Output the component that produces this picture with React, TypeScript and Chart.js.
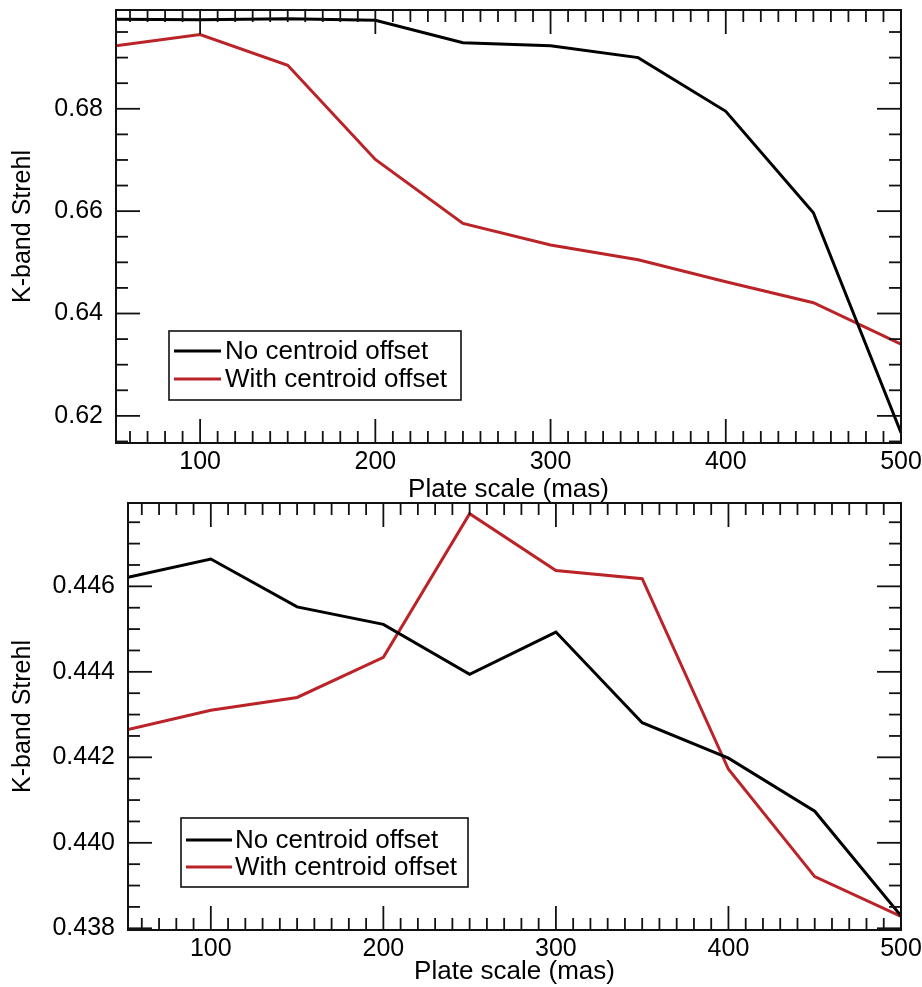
import React, { useEffect, useRef } from 'react';
import { Chart, registerables } from 'chart.js';

Chart.register(...registerables);

// ---------- data ----------
const plateScale = [52, 100, 150, 200, 250, 300, 350, 400, 450, 500];
const seriesLabels = ['No centroid offset', 'With centroid offset'];

const topNoOffset = [0.6975, 0.6974, 0.6976, 0.6973, 0.6929, 0.6923, 0.6900, 0.6795, 0.6597, 0.6167];
const topWithOffset = [0.6923, 0.6945, 0.6885, 0.6701, 0.6576, 0.6534, 0.6505, 0.6462, 0.6421, 0.6340];

const bottomNoOffset = [0.44621, 0.44664, 0.44552, 0.44511, 0.44394, 0.44493, 0.44281, 0.44198, 0.44074, 0.43829];
const bottomWithOffset = [0.44265, 0.44310, 0.44340, 0.44434, 0.44770, 0.44637, 0.44618, 0.44172, 0.43921, 0.43828];

const xTickLabels = [100, 200, 300, 400, 500];
const topYTicks = [0.62, 0.64, 0.66, 0.68];
const bottomYTicks = [0.438, 0.440, 0.442, 0.444, 0.446];

const xTitle = 'Plate scale (mas)';
const yTitle = 'K-band Strehl';

const FONT = '"Liberation Sans", Arial, Helvetica, sans-serif';
const BLACK = '#000000';
const RED = '#BA2328';

// ---------- plugin: IDL-style box, inward ticks, legend ----------
const idlAxes = {
  id: 'idlAxes',
  afterDatasetsDraw(chart: any, _args: any, opts: any) {
    const { ctx, chartArea: a } = chart;
    const x = chart.scales.x;
    const y = chart.scales.y;
    ctx.save();
    ctx.strokeStyle = '#111';
    ctx.lineWidth = 1.8;
    ctx.lineCap = 'butt';
    const seg = (x1: number, y1: number, x2: number, y2: number) => {
      ctx.beginPath();
      ctx.moveTo(x1, y1);
      ctx.lineTo(x2, y2);
      ctx.stroke();
    };
    const MAJ = 24;
    const MIN = 12;
    // x ticks
    {
      const step = opts.xMinor;
      const ratio = Math.round(opts.xMajor / opts.xMinor);
      const i0 = Math.ceil(x.min / step - 1e-9);
      const i1 = Math.floor(x.max / step + 1e-9);
      for (let i = i0; i <= i1; i++) {
        const px = x.getPixelForValue(i * step);
        const len = i % ratio === 0 ? MAJ : MIN;
        seg(px, a.bottom, px, a.bottom - len);
        seg(px, a.top, px, a.top + len);
      }
    }
    // y ticks
    {
      const step = opts.yMinor;
      const ratio = Math.round(opts.yMajor / opts.yMinor);
      const i0 = Math.ceil(y.min / step - 1e-9);
      const i1 = Math.floor(y.max / step + 1e-9);
      for (let i = i0; i <= i1; i++) {
        const py = y.getPixelForValue(i * step);
        const len = i % ratio === 0 ? MAJ : MIN;
        seg(a.left, py, a.left + len, py);
        seg(a.right, py, a.right - len, py);
      }
    }
    ctx.lineWidth = 2;
    ctx.strokeRect(a.left, a.top, a.right - a.left, a.bottom - a.top);

    // legend
    const L = opts.legend;
    if (L) {
      ctx.fillStyle = '#fff';
      ctx.fillRect(L.left, L.top, L.right - L.left, L.bottom - L.top);
      ctx.lineWidth = 1.6;
      ctx.strokeStyle = '#111';
      ctx.strokeRect(L.left, L.top, L.right - L.left, L.bottom - L.top);
      ctx.font = `${L.fontSize}px ${FONT}`;
      ctx.textBaseline = 'middle';
      ctx.textAlign = 'left';
      chart.data.datasets.forEach((ds: any, k: number) => {
        const ry = L.rows[k];
        ctx.strokeStyle = ds.borderColor;
        ctx.lineWidth = 3;
        seg(L.x1, ry, L.x2, ry);
        ctx.fillStyle = '#000';
        ctx.fillText(ds.label, L.tx, ry + 1);
      });
    }
    ctx.restore();
  },
};

type PanelProps = {
  top: number;
  height: number;
  yA: number[];
  yB: number[];
  yMin: number;
  yMax: number;
  yTicks: number[];
  yDecimals: number;
  yMinor: number;
  yMajor: number;
  padTop: number;
  yAxisWidth: number;
  xAxisHeight: number;
  legend: any;
};

function Panel(p: PanelProps) {
  const ref = useRef<HTMLCanvasElement | null>(null);
  useEffect(() => {
    if (!ref.current) return;
    const chart = new Chart(ref.current, {
      type: 'line',
      data: {
        datasets: [
          {
            label: seriesLabels[0],
            data: plateScale.map((v, i) => ({ x: v, y: p.yA[i] })),
            borderColor: BLACK,
            borderWidth: 3,
            pointRadius: 0,
            fill: false,
            tension: 0,
          },
          {
            label: seriesLabels[1],
            data: plateScale.map((v, i) => ({ x: v, y: p.yB[i] })),
            borderColor: RED,
            borderWidth: 3,
            pointRadius: 0,
            fill: false,
            tension: 0,
          },
        ],
      },
      options: {
        responsive: false,
        animation: false,
        events: [],
        layout: { padding: { left: 0, top: p.padTop, right: 21, bottom: 0 } },
        plugins: {
          legend: { display: false },
          tooltip: { enabled: false },
          idlAxes: {
            xMinor: 10,
            xMajor: 100,
            yMinor: p.yMinor,
            yMajor: p.yMajor,
            legend: p.legend,
          },
        } as any,
        scales: {
          x: {
            type: 'linear',
            min: plateScale[0],
            max: plateScale[plateScale.length - 1],
            grid: { display: false, drawTicks: false },
            border: { display: false },
            afterBuildTicks: (s: any) => {
              s.ticks = xTickLabels.map((v) => ({ value: v }));
            },
            afterFit: (s: any) => {
              s.height = p.xAxisHeight;
              s.paddingLeft = 0;
              s.paddingRight = 0;
            },
            ticks: {
              color: '#000',
              padding: 4,
              maxRotation: 0,
              autoSkip: false,
              font: { family: FONT, size: 25 },
              callback: (v: any) => String(Math.round(Number(v))),
            },
            title: {
              display: true,
              text: xTitle,
              color: '#000',
              font: { family: FONT, size: 26 },
              padding: { top: 0, bottom: 0 },
            },
          },
          y: {
            type: 'linear',
            min: p.yMin,
            max: p.yMax,
            grid: { display: false, drawTicks: false },
            border: { display: false },
            afterBuildTicks: (s: any) => {
              s.ticks = p.yTicks.map((v) => ({ value: v }));
            },
            afterFit: (s: any) => {
              s.width = p.yAxisWidth;
              s.paddingTop = 0;
              s.paddingBottom = 0;
            },
            ticks: {
              color: '#000',
              padding: 13,
              autoSkip: false,
              font: { family: FONT, size: 25 },
              callback: (v: any) => Number(v).toFixed(p.yDecimals),
            },
            title: {
              display: true,
              text: yTitle,
              color: '#000',
              font: { family: FONT, size: 25 },
              padding: { top: 8, bottom: 0 },
            },
          },
        },
      },
      plugins: [idlAxes],
    } as any);
    return () => chart.destroy();
  }, []);
  return (
    <canvas
      ref={ref}
      width={922}
      height={p.height}
      style={{ position: 'absolute', left: 0, top: p.top, width: 922, height: p.height }}
    />
  );
}

export default function App() {
  return (
    <div style={{ position: 'absolute', left: 0, top: 0, width: 922, height: 987, background: '#fff' }}>
      <Panel
        top={0}
        height={505}
        yA={topNoOffset}
        yB={topWithOffset}
        yMin={0.6147}
        yMax={0.6993}
        yTicks={topYTicks}
        yDecimals={2}
        yMinor={0.005}
        yMajor={0.02}
        padTop={10}
        yAxisWidth={116}
        xAxisHeight={62}
        legend={{ left: 169, top: 331, right: 461, bottom: 400, x1: 174, x2: 221, tx: 225, rows: [351, 379], fontSize: 26 }}
      />
      <Panel
        top={480}
        height={507}
        yA={bottomNoOffset}
        yB={bottomWithOffset}
        yMin={0.43796}
        yMax={0.44795}
        yTicks={bottomYTicks}
        yDecimals={3}
        yMinor={0.0005}
        yMajor={0.002}
        padTop={23}
        yAxisWidth={128}
        xAxisHeight={57}
        legend={{ left: 181, top: 338, right: 468, bottom: 407, x1: 186, x2: 232, tx: 235, rows: [360, 387], fontSize: 26 }}
      />
    </div>
  );
}
